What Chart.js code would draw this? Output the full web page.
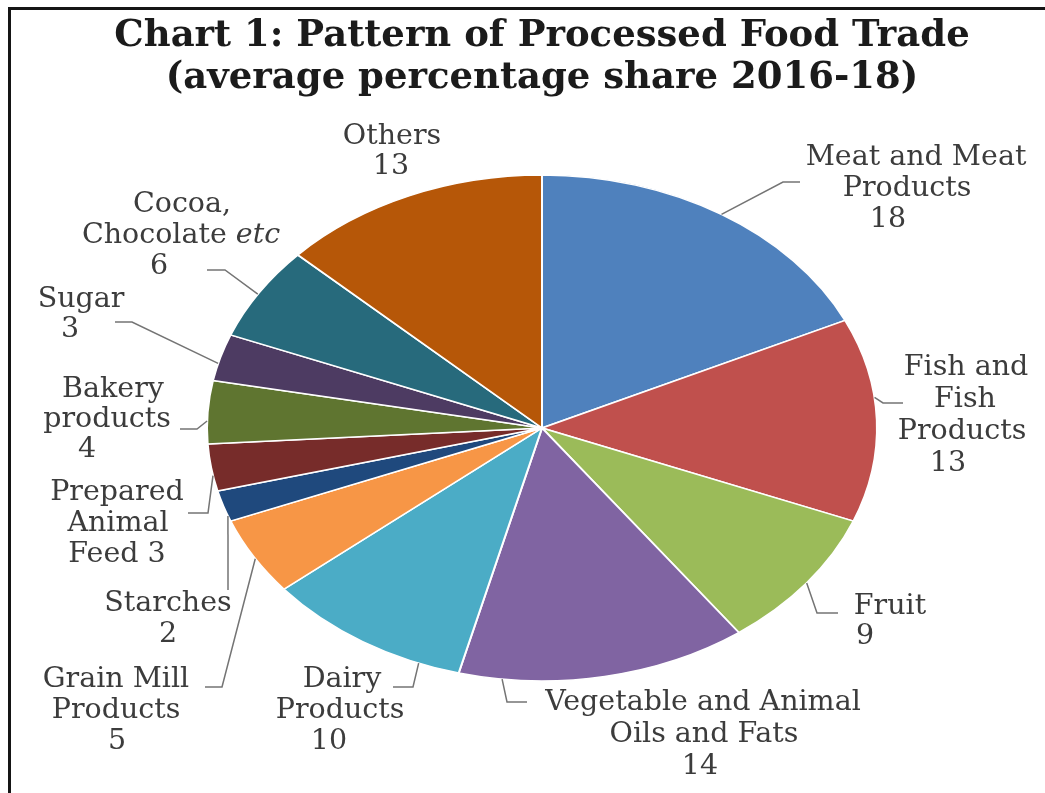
<!DOCTYPE html>
<html>
<head>
<meta charset="utf-8">
<title>Pattern of Processed Food Trade</title>
<script src="https://cdn.jsdelivr.net/npm/chart.js@4.4.0/dist/chart.umd.min.js"></script>
<style>
    html, body { margin: 0; padding: 0; background: #fff; }
    #wrap { position: relative; width: 1045px; height: 793px; overflow: hidden; }
    #wrap canvas { position: absolute; left: 0; top: 0; }
    #frame {
        position: absolute; left: 8px; top: 7px; width: 1060px; height: 820px;
        border-top: 3px solid #151515; border-left: 3px solid #151515;
    }
</style>
</head>
<body>
<div id="wrap">
    <canvas id="canvas" width="1045" height="793"></canvas>
    <div id="frame"></div>
</div>
<script>
/* global Chart */

// average percentage share 2016-18, clockwise from 12 o'clock
var categories = [
    'Meat and Meat Products', 'Fish and Fish Products', 'Fruit',
    'Vegetable and Animal Oils and Fats', 'Dairy Products', 'Grain Mill Products',
    'Starches', 'Prepared Animal Feed', 'Bakery products', 'Sugar',
    'Cocoa, Chocolate etc', 'Others'
];
var shares = [18, 13, 9, 14, 10, 5, 2, 3, 4, 3, 6, 13];
var sliceColors = [
    '#4f81bd', '#c0504d', '#9bbb59', '#8064a2', '#4bacc6', '#f79646',
    '#1f497d', '#772c2a', '#5f7530', '#4d3b62', '#276a7c', '#b65708'
];

// label wording, the share is appended as its own line (or to the last line)
var labelText = [
    ['Meat and Meat', 'Products'],
    ['Fish and', 'Fish', 'Products'],
    ['Fruit'],
    ['Vegetable and Animal', 'Oils and Fats'],
    ['Dairy', 'Products'],
    ['Grain Mill', 'Products'],
    ['Starches'],
    ['Prepared', 'Animal', 'Feed'],
    ['Bakery', 'products'],
    ['Sugar'],
    ['Cocoa,', 'Chocolate *etc*'],
    ['Others']
];

// where each label sits and how its leader line runs
// xs: centre of each line, y: middle of first line, dy: line step
// leader.at: point along the slice's outer edge (0 = start, 1 = end)
var labelLayout = [
    { xs: [916, 907, 888], y: 158, dy: 31, leader: { at: 0.5, path: [[783, 182], [800, 182]] } },
    { xs: [966, 965, 962, 948], y: 368, dy: 31.7, leader: { at: 0.39, path: [[883, 403], [903, 403]] } },
    { xs: [890, 865], y: 607, dy: 30, leader: { at: 0.5, path: [[817, 613], [838, 613]] } },
    { xs: [703, 704, 700], y: 703, dy: 32, leader: { at: 0.85, path: [[507, 702], [527, 702]] } },
    { xs: [342, 340, 329], y: 680, dy: 31, leader: { at: 0.2, path: [[413, 687], [393, 687]] } },
    { xs: [116, 116, 117], y: 680, dy: 31, leader: { at: 0.47, path: [[222, 687], [205, 687]] } },
    { xs: [168, 168], y: 604, dy: 31, leader: { at: 0.17, path: [[228, 590]] } },
    { xs: [117, 118, 117], y: 493, dy: 31, inline: true, leader: { at: 0.33, path: [[208, 513], [188, 513]] } },
    { xs: [113, 107, 87], y: 390, dy: 30, leader: { at: 0.36, path: [[197, 429], [180, 429]] } },
    { xs: [81, 70], y: 300, dy: 30, leader: { at: 0.37, path: [[132, 322], [115, 322]] } },
    { xs: [182, 181, 159], y: 205, dy: 31, leader: { at: 0.48, path: [[225, 270], [207, 270]] } },
    { xs: [392, 391], y: 137, dy: 30 }
];

var squash = 0.755;   // the pie is drawn as a flattened ellipse
var labelFont = 'DejaVu Serif';

var ellipsePie = {
    id: 'ellipsePie',
    beforeDatasetsDraw: function (chart) {
        var arc = chart.getDatasetMeta(0).data[0];
        var ctx = chart.ctx;
        ctx.save();
        ctx.translate(arc.x, arc.y);
        ctx.scale(1, squash);
        ctx.translate(-arc.x, -arc.y);
    },
    afterDatasetsDraw: function (chart) {
        chart.ctx.restore();
    }
};

function drawLine(ctx, text, cx, y) {
    var parts = text.split('*');
    var fonts = parts.map(function (p, i) {
        return (i % 2 ? 'italic ' : '') + '28.5px "' + labelFont + '"';
    });
    var total = 0;
    parts.forEach(function (p, i) {
        ctx.font = fonts[i];
        total += ctx.measureText(p).width;
    });
    var x = cx - total / 2;
    parts.forEach(function (p, i) {
        ctx.font = fonts[i];
        ctx.fillText(p, x, y);
        x += ctx.measureText(p).width;
    });
}

var sliceLabels = {
    id: 'sliceLabels',
    afterDraw: function (chart) {
        var ctx = chart.ctx;
        var arcs = chart.getDatasetMeta(0).data;
        ctx.save();
        arcs.forEach(function (arc, i) {
            var p = arc.getProps(['x', 'y', 'startAngle', 'endAngle', 'outerRadius'], true);
            var lay = labelLayout[i];
            var lines = labelText[i].slice();
            if (lay.inline) {
                lines[lines.length - 1] += ' ' + shares[i];
            } else {
                lines.push(String(shares[i]));
            }

            if (lay.leader) {
                var a = p.startAngle + lay.leader.at * (p.endAngle - p.startAngle);
                ctx.beginPath();
                ctx.moveTo(p.x + p.outerRadius * Math.cos(a), p.y + p.outerRadius * Math.sin(a) * squash);
                lay.leader.path.forEach(function (pt) {
                    ctx.lineTo(pt[0], pt[1]);
                });
                ctx.strokeStyle = '#747474';
                ctx.lineWidth = 1.5;
                ctx.stroke();
            }

            ctx.fillStyle = '#3c3c3c';
            ctx.textAlign = 'left';
            ctx.textBaseline = 'middle';
            lines.forEach(function (line, j) {
                drawLine(ctx, line, lay.xs[j], lay.y + j * lay.dy);
            });
        });
        ctx.restore();
    }
};

var chart = new Chart(document.getElementById('canvas'), {
    type: 'pie',
    data: {
        labels: categories,
        datasets: [{
            data: shares,
            backgroundColor: sliceColors,
            borderColor: '#ffffff',
            borderWidth: 2,
            radius: 335,
            clip: false
        }]
    },
    options: {
        responsive: false,
        animation: false,
        events: [],
        layout: {
            padding: { left: 39, right: 0, top: 0, bottom: 42 }
        },
        plugins: {
            legend: { display: false },
            tooltip: { enabled: false },
            title: {
                display: true,
                text: ['Chart 1: Pattern of Processed Food Trade', '(average percentage share 2016-18)'],
                color: '#1b1b1b',
                font: { family: 'DejaVu Serif', size: 37, weight: 'bold', lineHeight: '42px' },
                padding: { top: 15, bottom: 6 }
            }
        }
    },
    plugins: [ellipsePie, sliceLabels]
});
</script>
</body>
</html>
